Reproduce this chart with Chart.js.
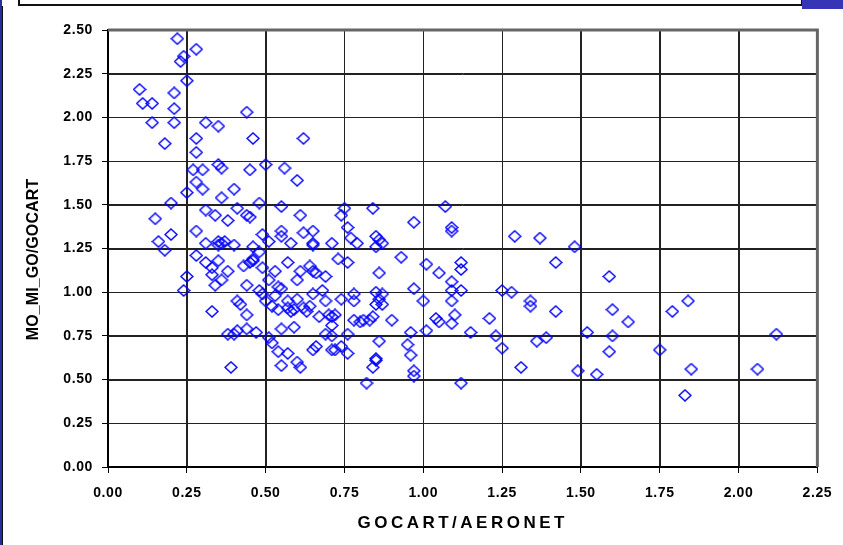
<!DOCTYPE html>
<html>
<head>
<meta charset="utf-8">
<title>MO_MI_GO/GOCART vs GOCART/AERONET</title>
<script src="https://cdn.jsdelivr.net/npm/chart.js@4.4.1/dist/chart.umd.min.js"></script>
<style>
  html, body { margin: 0; padding: 0; background: #fff; }
  #wrap { position: relative; width: 843px; height: 545px; overflow: hidden; }
  #chart { position: absolute; left: 0; top: 0; }
  .edge-left { position: absolute; left: 0; top: 0; width: 2px; height: 545px; background: #2a2aa0; }
  .panel-line { position: absolute; left: 2px; top: 6px; width: 1px; height: 539px; background: #111; }
  .title-box { position: absolute; left: 18px; top: -3px; width: 781px; height: 5px; border: 2px solid #111; background: #fff; }
  .corner { position: absolute; left: 802px; top: 0; width: 41px; height: 9px; background: #3535b5; }
</style>
</head>
<body>
<div id="wrap">
  <canvas id="chart" width="843" height="545"></canvas>
  <div class="edge-left"></div>
  <div class="panel-line"></div>
  <div class="title-box"></div>
  <div class="corner"></div>
</div>
<script>
const xTickValues = [0, 0.25, 0.5, 0.75, 1, 1.25, 1.5, 1.75, 2, 2.25];
const yTickValues = [0, 0.25, 0.5, 0.75, 1, 1.25, 1.5, 1.75, 2, 2.25, 2.5];

// GOCART/AERONET
const gocartAeronet = [
  0.22, 0.28, 0.24, 0.23, 0.25, 0.10, 0.21, 0.11, 0.14, 0.21,
  0.44, 0.14, 0.21, 0.31, 0.35, 0.28, 0.46, 0.62, 0.18, 0.28,
  0.27, 0.30, 0.35, 0.36, 0.45, 0.50, 0.56, 0.60, 0.28, 0.30,
  0.25, 0.40, 0.36, 0.20, 0.48, 0.55, 0.31, 0.34, 0.41, 0.44,
  0.45, 0.75, 0.74, 0.61, 0.15, 0.38, 0.28, 0.20, 0.16, 0.18,
  0.31, 0.35, 0.36, 0.37, 0.35, 0.40, 0.46, 0.48, 0.49, 0.51,
  0.55, 0.55, 0.58, 0.62, 0.65, 0.65, 0.65, 0.71, 0.76, 0.77,
  0.79, 0.28, 0.31, 0.33, 0.35, 0.38, 0.43, 0.45, 0.46, 0.46,
  0.49, 0.53, 0.57, 0.61, 0.64, 0.65, 0.66, 0.69, 0.73, 0.76,
  0.25, 0.33, 0.36, 0.34, 0.44, 0.51, 0.54, 0.55, 0.60, 0.24,
  0.48, 0.49, 0.53, 0.68, 0.65, 0.78, 0.78, 0.74, 0.69, 0.60,
  0.57, 0.50, 0.52, 0.54, 0.57, 0.58, 0.59, 0.62, 0.64, 0.63,
  0.67, 0.70, 0.71, 0.72, 0.71, 0.78, 0.80, 0.81, 0.41, 0.42,
  0.33, 0.44, 0.44, 0.47, 0.41, 0.40, 0.38, 0.55, 0.59, 0.51,
  0.52, 0.54, 0.57, 0.69, 0.71, 0.76, 0.65, 0.66, 0.71, 0.72,
  0.74, 0.76, 0.55, 0.60, 0.61, 0.39, 0.84, 1.07, 0.97, 1.09,
  1.09, 0.85, 0.85, 0.87, 1.29, 1.37, 1.48, 1.42, 0.93, 1.01,
  1.12, 1.12, 1.05, 0.86, 1.09, 1.09, 1.12, 0.97, 1.25, 1.28,
  1.34, 1.34, 1.42, 0.85, 0.87, 0.86, 0.85, 0.87, 1.00, 1.09,
  1.21, 1.04, 1.05, 1.10, 1.09, 0.90, 0.84, 0.83, 0.96, 1.01,
  1.15, 1.23, 1.39, 1.36, 1.52, 0.86, 0.95, 0.96, 1.25, 0.85,
  0.85, 0.84, 0.97, 0.97, 1.31, 1.49, 1.55, 0.82, 1.12, 1.59,
  1.60, 1.84, 1.79, 1.65, 1.60, 2.12, 1.59, 1.75, 1.85, 2.06,
  1.83, 0.86
];

// MO_MI_GO/GOCART
const moMiGoGocart = [
  2.45, 2.39, 2.35, 2.32, 2.21, 2.16, 2.14, 2.08, 2.08, 2.05,
  2.03, 1.97, 1.97, 1.97, 1.95, 1.88, 1.88, 1.88, 1.85, 1.80,
  1.70, 1.70, 1.73, 1.71, 1.70, 1.73, 1.71, 1.64, 1.63, 1.59,
  1.57, 1.59, 1.54, 1.51, 1.51, 1.49, 1.47, 1.44, 1.48, 1.44,
  1.43, 1.48, 1.44, 1.44, 1.42, 1.41, 1.35, 1.33, 1.29, 1.24,
  1.28, 1.29, 1.28, 1.29, 1.27, 1.27, 1.26, 1.23, 1.33, 1.29,
  1.35, 1.32, 1.28, 1.34, 1.35, 1.28, 1.27, 1.28, 1.37, 1.31,
  1.28, 1.21, 1.17, 1.14, 1.18, 1.12, 1.15, 1.17, 1.19, 1.18,
  1.14, 1.12, 1.17, 1.12, 1.15, 1.12, 1.11, 1.09, 1.19, 1.17,
  1.09, 1.10, 1.07, 1.04, 1.04, 1.07, 1.03, 1.02, 1.07, 1.01,
  1.01, 0.99, 0.98, 1.01, 0.99, 0.99, 0.95, 0.96, 0.95, 0.96,
  0.95, 0.95, 0.92, 0.90, 0.91, 0.89, 0.90, 0.91, 0.92, 0.89,
  0.86, 0.87, 0.86, 0.87, 0.81, 0.84, 0.83, 0.84, 0.95, 0.93,
  0.89, 0.87, 0.79, 0.77, 0.78, 0.76, 0.76, 0.79, 0.80, 0.74,
  0.71, 0.66, 0.65, 0.76, 0.75, 0.76, 0.67, 0.69, 0.67, 0.67,
  0.69, 0.65, 0.58, 0.60, 0.57, 0.57, 1.48, 1.49, 1.40, 1.37,
  1.35, 1.32, 1.26, 1.28, 1.32, 1.31, 1.26, 1.17, 1.20, 1.16,
  1.17, 1.13, 1.11, 1.11, 1.06, 1.01, 1.01, 1.02, 1.01, 1.00,
  0.95, 0.92, 0.89, 1.00, 0.99, 0.96, 0.93, 0.93, 0.95, 0.95,
  0.85, 0.85, 0.83, 0.87, 0.82, 0.84, 0.86, 0.84, 0.77, 0.78,
  0.77, 0.75, 0.74, 0.72, 0.77, 0.72, 0.70, 0.64, 0.68, 0.62,
  0.61, 0.57, 0.55, 0.52, 0.57, 0.55, 0.53, 0.48, 0.48, 1.09,
  0.90, 0.95, 0.89, 0.83, 0.75, 0.76, 0.66, 0.67, 0.56, 0.56,
  0.41, 1.30
];

const points = gocartAeronet.map((x, i) => ({ x: x, y: moMiGoGocart[i] }));

// hollow blue diamond marker, a little wider than tall
function diamondMarker(w, h, color, lw) {
  const c = document.createElement("canvas");
  c.width = w + 2;
  c.height = h + 2;
  const g = c.getContext("2d");
  g.strokeStyle = color;
  g.lineWidth = lw;
  g.beginPath();
  g.moveTo(c.width / 2, 1);
  g.lineTo(c.width - 1, c.height / 2);
  g.lineTo(c.width / 2, c.height - 1);
  g.lineTo(1, c.height / 2);
  g.closePath();
  g.stroke();
  return c;
}

const textStyle = {
  x: { labels: "0.6px", title: "3.5px", shift: 0 },
  y: { labels: "0.6px", title: "0.1px", shift: 11 }
};

// canvas letterSpacing for tick labels and axis titles (y title nudged down like the original)
const spacedText = {
  id: "spacedText",
  beforeDraw(chart) {
    Object.keys(textStyle).forEach(id => {
      const scale = chart.scales[id];
      if (!scale || scale._spaced) return;
      const st = textStyle[id];
      [["drawLabels", st.labels, 0], ["drawTitle", st.title, st.shift]].forEach(([fn, sp, dy]) => {
        const orig = scale[fn];
        scale[fn] = function (...args) {
          const ctx = this.ctx;
          ctx.save();
          ctx.letterSpacing = sp;
          if (dy) ctx.translate(0, dy);
          orig.apply(this, args);
          ctx.restore();
        };
      });
      scale._spaced = true;
    });
  }
};

// grid lines at the tick values, plus the gray frame on top and right
const plotGrid = {
  id: "plotGrid",
  beforeDatasetsDraw(chart) {
    const { ctx, chartArea: a, scales } = chart;
    ctx.save();
    ctx.strokeStyle = "#222";
    ctx.lineWidth = 1;
    ctx.beginPath();
    xTickValues.slice(1, -1).forEach(v => {
      const px = Math.round(scales.x.getPixelForValue(v)) + 0.5;
      ctx.moveTo(px, a.top);
      ctx.lineTo(px, a.bottom);
    });
    yTickValues.slice(1, -1).forEach(v => {
      const py = Math.round(scales.y.getPixelForValue(v)) + 0.5;
      ctx.moveTo(a.left, py);
      ctx.lineTo(a.right, py);
    });
    ctx.stroke();
    ctx.strokeStyle = "#666";
    ctx.lineWidth = 3;
    ctx.beginPath();
    ctx.moveTo(a.left, a.top);
    ctx.lineTo(a.right, a.top);
    ctx.lineTo(a.right, a.bottom);
    ctx.stroke();
    ctx.restore();
  }
};

const fontFamily = "'Liberation Sans', Arial, sans-serif";
const tickFont = { family: fontFamily, size: 14, weight: "bold" };

new Chart(document.getElementById("chart"), {
  type: "scatter",
  data: {
    datasets: [{
      label: "MO_MI_GO/GOCART",
      data: points,
      pointStyle: diamondMarker(12, 11, "#0000ff", 1.5),
      pointRadius: 6,
      pointHoverRadius: 6
    }]
  },
  options: {
    responsive: false,
    animation: false,
    layout: { padding: { left: 0, top: 30, right: 25, bottom: 0 } },
    plugins: { legend: { display: false }, tooltip: { enabled: false } },
    scales: {
      x: {
        type: "linear",
        min: 0,
        max: 2.25,
        afterBuildTicks: s => { s.ticks = xTickValues.map(v => ({ value: v })); },
        afterFit: s => { s.height = 78; },
        ticks: {
          callback: v => v.toFixed(2),
          font: tickFont,
          color: "#000",
          padding: 12,
          maxRotation: 0
        },
        grid: {
          color: "#222",
          lineWidth: 1,
          tickColor: "#000",
          tickLength: 6,
          tickWidth: 1
        },
        border: { color: "#000", width: 2 },
        title: {
          display: true,
          text: "GOCART/AERONET",
          color: "#000",
          font: { family: fontFamily, size: 17, weight: "bold" },
          padding: { top: 0, bottom: 11 }
        }
      },
      y: {
        type: "linear",
        min: 0,
        max: 2.5,
        afterBuildTicks: s => { s.ticks = yTickValues.map(v => ({ value: v })); },
        afterFit: s => { s.width = 108; },
        ticks: {
          callback: v => v.toFixed(2),
          font: tickFont,
          color: "#000",
          padding: 9
        },
        grid: {
          color: "#222",
          lineWidth: 1,
          tickColor: "#000",
          tickLength: 6,
          tickWidth: 1
        },
        border: { color: "#000", width: 2 },
        title: {
          display: true,
          text: "MO_MI_GO/GOCART",
          color: "#000",
          font: { family: fontFamily, size: 16, weight: "bold" },
          padding: { top: 24, bottom: 0 }
        }
      }
    }
  },
  plugins: [spacedText, plotGrid]
});
</script>
</body>
</html>
